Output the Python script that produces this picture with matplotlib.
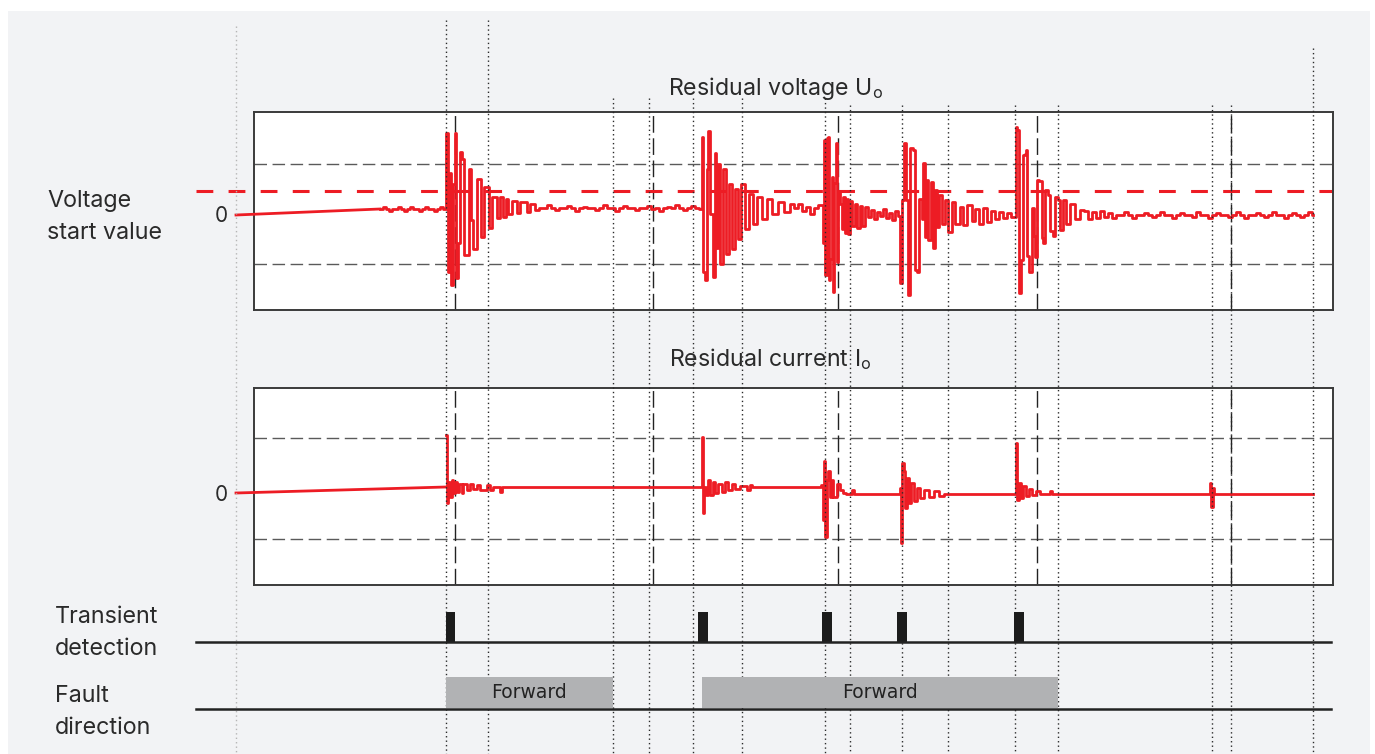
import numpy as np
import matplotlib
matplotlib.use("Agg")
import matplotlib.pyplot as plt
from matplotlib.patches import Rectangle

plt.rcParams['font.family'] = ['Inter', 'DejaVu Sans']

# Time axis in ms, 0 = left edge of the two plot boxes
# ---------------- residual voltage Uo (1 = threshold level) ----------------
u_lead_t = [-18, 126]
u_lead_v = [-0.02, 0.10]

u_noise1_v = [0.10, 0.14, 0.10, 0.06, 0.10, 0.10, 0.14, 0.10, 0.06, 0.10, 0.14,
              0.10, 0.10, 0.06, 0.10, 0.14, 0.10, 0.10, 0.06, 0.10, 0.14, 0.10]
u_burst1_t = [192, 193.5, 196, 197, 199, 200.5, 202, 203.5, 205.5, 208, 210, 215,
              217, 219, 223, 227, 230, 235, 238, 243, 246, 249, 252, 254, 258, 263,
              266, 273, 276, 281]
u_burst1_v = [1.63, -1.15, 0.82, -1.42, 0.6, 1.62, -1.28, -0.58, 1.24, 1.1, -0.82,
              0.9, -0.12, -0.7, 0.7, -0.46, 0.54, -0.28, 0.34, -0.08, 0.34, -0.06,
              0.3, 0.0, 0.26, 0.02, 0.24, 0.04, 0.2, 0.08]
u_noise2_v = [0.12, 0.12, 0.18, 0.12, 0.08, 0.12, 0.12, 0.16, 0.12, 0.06,
              0.12, 0.14, 0.12, 0.12, 0.08, 0.12, 0.18, 0.12, 0.12, 0.06,
              0.12, 0.16, 0.12, 0.12, 0.08, 0.12, 0.12, 0.16, 0.10, 0.12,
              0.06, 0.12, 0.14, 0.12, 0.18, 0.12, 0.08, 0.12, 0.16, 0.12, 0.10]
u_burst2_t = [447.5, 448.5, 451, 452.5, 454, 456, 458.5, 461, 462, 464, 466, 469,
              472, 475, 478, 481, 484, 487, 491, 495, 499, 503, 508, 513, 518, 524,
              530, 536]
u_burst2_v = [1.54, -1.16, -1.32, 0.9, 1.66, 0.0, -1.26, 1.22, -0.68, 1.0, -1.0,
              0.9, -0.8, 0.6, -0.7, 0.5, -0.5, 0.6, -0.3, 0.4, -0.2, 0.35, -0.1,
              0.3, 0.0, 0.24, 0.04, 0.2]
u_noise3_v = [0.12, 0.2, 0.06, 0.14, 0.0, 0.12, 0.18]
u_burst3_t = [568.7, 570.3, 571.3, 572.7, 574.3, 575.3, 576, 577.7, 578.7, 580.3,
              582, 583.3, 584.3, 586, 587.7, 589.3, 591, 592.7, 594.3, 596, 597.7,
              601, 602.7, 606, 607.7, 611]
u_burst3_v = [-0.58, 1.48, -1.22, 1.52, 1.54, -1.32, -0.9, 0.74, -1.56, 0.62, 1.42,
              -0.96, 0.44, 0.2, -0.3, 0.34, -0.38, 0.3, -0.4, 0.26, -0.24, 0.2,
              -0.28, 0.16, -0.24, 0.14]
u_noise4_v = [-0.06, 0.08, -0.1, 0.04, -0.04, 0.1, -0.08, 0.02, -0.12, 0.06, -0.04]
u_burst4_t = [646, 647.7, 650, 652, 653.7, 656, 659.3, 661, 663.3, 665.3, 667.7,
              669.3, 671, 672.7, 674.3, 676.7, 678.7, 681, 682.7, 685.3, 687.7, 691,
              694.3, 697.7, 701, 706, 709.3, 712.7, 717.7]
u_burst4_v = [-1.38, 0.28, 1.42, 0.28, -1.62, 1.32, 1.28, -1.12, -1.16, 0.3, -0.1,
              1.02, -0.46, 0.68, -0.52, 0.64, -0.68, 0.48, -0.26, 0.38, -0.2, 0.28,
              -0.36, 0.24, -0.2, 0.14, -0.22, 0.18, -0.14]
u_noise5_v = [0.1, -0.2, 0.12, -0.16, 0.06, -0.1, 0.04, -0.08, 0.02, -0.06]
u_burst5_t = [762, 763.3, 764.7, 766.7, 768.7, 771, 772, 773.3, 775.3, 777.7, 780,
              781.3, 783.3, 785.3, 787.7, 789.3, 791, 794.3, 796, 798.7, 801, 804.3,
              806, 808.7, 812, 816, 821, 826]
u_burst5_v = [1.74, 1.68, -1.58, -0.92, 1.18, 1.2, 1.28, -0.84, -1.16, 0.12, -0.44,
              -0.86, 0.68, 0.66, -0.48, -0.58, 0.48, 0.38, -0.34, -0.44, 0.34, 0.28,
              -0.32, 0.28, -0.2, 0.2, -0.1, 0.08]
u_noise6_v = [0.06, -0.1, 0.04, -0.08, 0.06, -0.06, 0.02, -0.08,
              -0.02, -0.02, 0.04, -0.02, -0.08, -0.02, -0.02, 0.02, -0.02, -0.06,
              -0.02, 0.04, -0.02, -0.02, -0.08, -0.02, 0.02, -0.02, -0.02, -0.06,
              0.04, -0.02, -0.02, -0.08, -0.02, 0.02, -0.02, -0.02, -0.06, -0.02,
              0.04, -0.02, -0.08, -0.02, -0.02, 0.02, -0.02, -0.06, -0.02, 0.04,
              -0.02, -0.02, -0.08, -0.02, 0.02, -0.02, -0.06, -0.02, 0.04, -0.02]
u_end_t = 1059
u_start_value = 0.46
u_levels = [1.0, -1.0]

# ---------------- residual current Io ----------------
i_lead_t = [-18, 192]
i_lead_v = [0.0, 0.12]
i_burst1_t = [192, 193, 194.3, 196, 197.7, 199.3, 201, 202.7, 205.3, 207.7, 209.3,
              212.7, 216, 219.3, 223.3, 226, 232.7, 236, 239, 246, 247.5]
i_burst1_v = [1.16, -0.2, 0.22, -0.07, 0.26, 0.0, 0.22, 0.03, 0.19, 0.0, 0.19, 0.06,
              0.19, 0.09, 0.17, 0.07, 0.17, 0.06, 0.12, 0.03, 0.12]
i_burst2_t = [447.7, 448.7, 450, 452, 454.3, 456, 458.7, 461, 464.3, 467.7, 471,
              474.3, 477.7, 481, 486, 492.7, 496, 498]
i_burst2_v = [1.12, -0.4, 0.13, -0.04, 0.26, -0.04, 0.22, 0.0, 0.19, 0.03, 0.22, 0.06,
              0.19, 0.09, 0.14, 0.06, 0.16, 0.12]
i_burst3_t = [566.7, 568.7, 570, 571, 572.7, 574.3, 576, 577.7, 579.3, 582.7, 586,
              589.3, 592, 598, 600]
i_burst3_v = [0.16, -0.54, 0.65, -0.87, 0.26, 0.45, -0.07, 0.26, -0.07, 0.19, 0.06,
              0.0, -0.02, 0.06, -0.02]
i_burst4_t = [646, 647, 648, 649.5, 651, 653, 655, 657, 660, 663, 666, 670, 675, 680,
              685, 690]
i_burst4_v = [0.1, -1.0, 0.6, 0.45, -0.3, 0.3, -0.2, 0.2, -0.15, 0.1, -0.1, 0.06,
              -0.08, 0.04, -0.06, -0.02]
i_burst5_t = [762, 763, 765, 767, 769, 772, 775, 778, 782, 786, 796, 798]
i_burst5_v = [1.0, -0.14, 0.2, -0.1, 0.14, -0.06, 0.08, -0.04, 0.04, -0.02, 0.04, -0.02]
i_blip_t = [956, 957, 958.5, 960, 1059]
i_blip_v = [0.2, -0.28, 0.1, -0.02, -0.02]
i_levels = [1.1, -0.92]

# ---------------- events ----------------
transient_t = [192, 444, 568, 643, 760]
transient_w = [9, 10, 10, 10, 10]
forward_start = [192, 448]
forward_end = [359, 804]
dotted_t = [-18, 192, 234, 359, 395, 439, 488, 571, 596, 648, 694, 761, 804, 958, 977, 1059]
dashed_t = [201, 399, 584, 783, 977]

# layout (pixels from top of the figure)
dotted_top = [26, 20, 20, 98, 98, 98, 98, 98, 105, 105, 105, 105, 105, 105, 105, 48]

RED = '#ed1c24'
INK = '#2a2a2a'
W, H = 1375, 754

fig = plt.figure(figsize=(W / 100, H / 100), dpi=100)
fig.patch.set_facecolor('white')
fig.add_artist(Rectangle((8 / W, 0), 1362 / W, 743 / H, transform=fig.transFigure,
                         facecolor='#f2f3f5', edgecolor='none', zorder=-1))

ax_u = fig.add_axes([254 / W, 1 - 310 / H, 1079 / W, 198 / H], zorder=1)
ax_i = fig.add_axes([254 / W, 1 - 585 / H, 1079 / W, 197 / H], zorder=1)
ax_u.set_ylim(-1.92, 2.04)
ax_i.set_ylim(-1.84, 2.1)

for ax, levels in [(ax_u, u_levels), (ax_i, i_levels)]:
    ax.set_facecolor('white')
    ax.set_xlim(0, 1079)
    ax.set_xticks([])
    ax.set_yticks([0])
    ax.set_yticklabels(['0'])
    ax.tick_params(axis='y', length=0, pad=19, labelsize=15, labelcolor=INK)
    for s in ax.spines.values():
        s.set_color('#3a3a3a')
        s.set_linewidth(1.4)
    for lv in levels:
        ax.axhline(lv, color='#5a5a5a', lw=1.0, ls=(0, (9, 4)), zorder=1)
    for t in dashed_t:
        ax.axvline(t, color='#222222', lw=1.0, ls=(0, (12, 4)), zorder=1)

# voltage signal
u_t = np.concatenate([126 + 3 * np.arange(len(u_noise1_v)), u_burst1_t,
                      285 + 4 * np.arange(len(u_noise2_v)), u_burst2_t,
                      540 + 4 * np.arange(len(u_noise3_v)), u_burst3_t,
                      614 + 3 * np.arange(len(u_noise4_v)), u_burst4_t,
                      721 + 4 * np.arange(len(u_noise5_v)), u_burst5_t,
                      830 + 4 * np.arange(len(u_noise6_v)), [u_end_t]])
u_v = np.concatenate([u_noise1_v, u_burst1_v, u_noise2_v, u_burst2_v, u_noise3_v,
                      u_burst3_v, u_noise4_v, u_burst4_v, u_noise5_v, u_burst5_v,
                      u_noise6_v, [u_noise6_v[-1]]])
ax_u.plot(u_lead_t, u_lead_v, color=RED, lw=2.0, clip_on=False, zorder=3)
ax_u.plot(u_t, u_v, color=RED, lw=2.0, drawstyle='steps-post', zorder=3)
ax_u.plot([-58, 1079], [u_start_value, u_start_value], color=RED, lw=2.2,
          ls=(0, (5.5, 5)), clip_on=False, zorder=2)

# current signal
i_t = np.concatenate([i_burst1_t, i_burst2_t, i_burst3_t, i_burst4_t, i_burst5_t, i_blip_t])
i_v = np.concatenate([i_burst1_v, i_burst2_v, i_burst3_v, i_burst4_v, i_burst5_v, i_blip_v])
ax_i.plot(i_lead_t, i_lead_v, color=RED, lw=2.0, clip_on=False, zorder=3)
ax_i.plot(i_t, i_v, color=RED, lw=2.0, drawstyle='steps-post', zorder=3)

# overlay: time in ms horizontally, pixels from top vertically
ov = fig.add_axes([0, 0, 1, 1], zorder=2)
ov.set_xlim(-254, W - 254)
ov.set_ylim(H, 0)
ov.axis('off')

for t, top in zip(dotted_t, dotted_top):
    col = '#b5b5b5' if t < 0 else '#2a2a2a'
    ov.vlines(t, top, H, colors=col, lw=1.0, linestyles=(0, (1, 2.2)))

ov.text(522, 88, 'Residual voltage U$_\\mathregular{o}$', ha='center', va='center',
        fontsize=16.7, color=INK)
ov.text(516, 359, 'Residual current I$_\\mathregular{o}$', ha='center', va='center',
        fontsize=16.7, color=INK)

ov.text(-207, 217, 'Voltage\nstart value', ha='left', va='center', fontsize=16.8,
        color=INK, linespacing=1.55)
ov.text(-199, 633, 'Transient\ndetection', ha='left', va='center', fontsize=16.8,
        color=INK, linespacing=1.55)
ov.text(-199, 712, 'Fault\ndirection', ha='left', va='center', fontsize=16.8,
        color=INK, linespacing=1.55)

ov.bar(transient_t, -30, width=transient_w, bottom=642, align='edge',
       color='#1c1c1c', zorder=3)
ov.plot([-58, 1077], [642, 642], color='#222222', lw=1.8, zorder=4)

fw_w = np.array(forward_end) - np.array(forward_start)
ov.bar(forward_start, -31, width=fw_w, bottom=708, align='edge',
       color='#b1b2b4', zorder=3)
for s, e in zip(forward_start, forward_end):
    ov.text((s + e) / 2, 693, 'Forward', ha='center', va='center', fontsize=13.5,
            color='#222222', family='DejaVu Sans')
ov.plot([-58, 1077], [709, 709], color='#222222', lw=1.8, zorder=4)

fig.savefig('out.png', dpi=100, facecolor=fig.get_facecolor())
